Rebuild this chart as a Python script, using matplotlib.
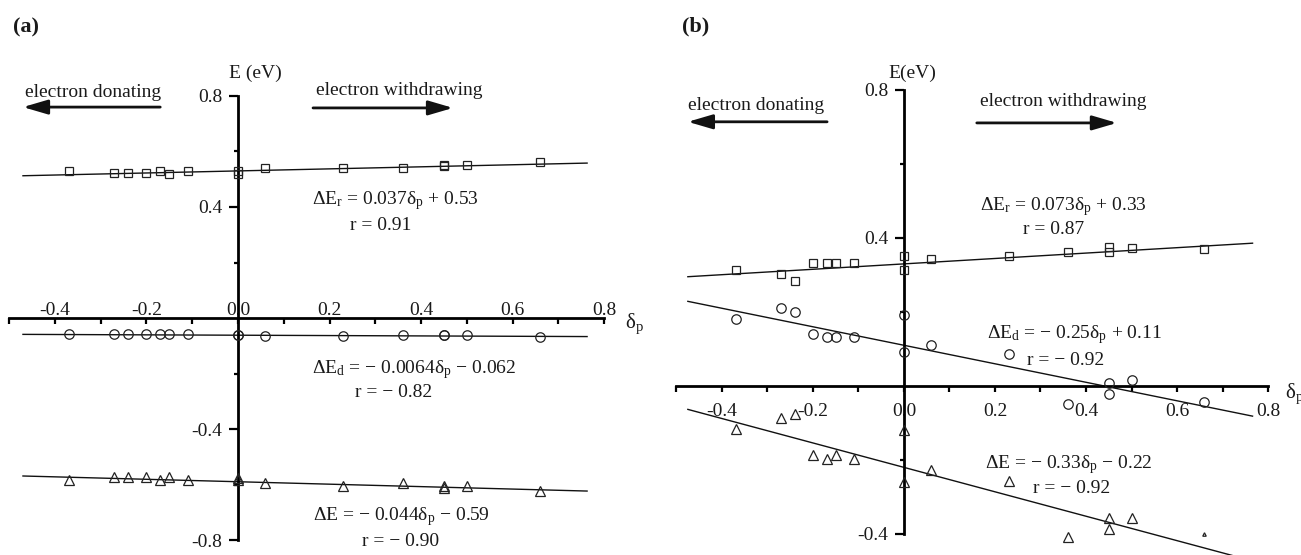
import numpy as np
import matplotlib
matplotlib.use("Agg")
import matplotlib.pyplot as plt
from matplotlib.ticker import FixedLocator, FixedFormatter

plt.rcParams['font.family'] = ['Liberation Serif', 'DejaVu Serif']
plt.rcParams['mathtext.fontset'] = 'custom'
plt.rcParams['mathtext.rm'] = 'Liberation Serif'
plt.rcParams['mathtext.it'] = 'Liberation Serif:italic'
plt.rcParams['mathtext.bf'] = 'Liberation Serif:bold'
plt.rcParams['axes.unicode_minus'] = False

# ---------------- data ----------------
sigma_p = [-0.37, -0.27, -0.24, -0.20, -0.17, -0.15, -0.11, 0.00, 0.00,
           0.06, 0.23, 0.36, 0.45, 0.45, 0.50, 0.66]

a_Er = [0.530, 0.521, 0.521, 0.521, 0.530, 0.520, 0.530, 0.530, 0.520,
        0.542, 0.542, 0.541, 0.551, 0.549, 0.551, 0.561]
a_Ed = [-0.059, -0.059, -0.059, -0.059, -0.059, -0.059, -0.059, -0.060, -0.062,
        -0.065, -0.065, -0.061, -0.063, -0.062, -0.061, -0.067]
a_E = [-0.584, -0.573, -0.573, -0.573, -0.584, -0.573, -0.584, -0.578, -0.582,
       -0.593, -0.605, -0.594, -0.607, -0.611, -0.605, -0.623]

b_Er = [0.314, 0.303, 0.284, 0.332, 0.332, 0.332, 0.332, 0.352, 0.314,
        0.342, 0.351, 0.362, 0.375, 0.361, 0.373, 0.371]
b_Ed = [0.181, 0.211, 0.201, 0.141, 0.132, 0.132, 0.132, 0.192, 0.093,
        0.112, 0.086, -0.050, 0.009, -0.022, 0.016, -0.042]
b_E = [-0.116, -0.086, -0.077, -0.186, -0.197, -0.186, -0.197, -0.119, -0.259,
       -0.227, -0.257, -0.407, -0.358, -0.387, -0.358, -0.400]

# regression (slope, intercept) as printed on the chart
a_fit_Er = (0.037, 0.53)
a_fit_Ed = (-0.0064, -0.062)
a_fit_E = (-0.044, -0.59)
b_fit_Er = (0.073, 0.33)
b_fit_Ed = (-0.25, 0.11)
b_fit_E = (-0.33, -0.22)

SUBR = r'$_\mathrm{r}$'
SUBD = r'$_\mathrm{d}$'
SUBP = r'$_\mathrm{p}$'
a_eq_Er = '\u0394E' + SUBR + ' = 0.037\u03b4' + SUBP + ' + 0.53'
a_r_Er = 'r = 0.91'
a_eq_Ed = '\u0394E' + SUBD + ' = \u2212 0.0064\u03b4' + SUBP + ' \u2212 0.062'
a_r_Ed = 'r = \u2212 0.82'
a_eq_E = '\u0394E = \u2212 0.044\u03b4' + SUBP + ' \u2212 0.59'
a_r_E = 'r = \u2212 0.90'
b_eq_Er = '\u0394E' + SUBR + ' = 0.073\u03b4' + SUBP + ' + 0.33'
b_r_Er = 'r = 0.87'
b_eq_Ed = '\u0394E' + SUBD + ' = \u2212 0.25\u03b4' + SUBP + ' + 0.11'
b_r_Ed = 'r = \u2212 0.92'
b_eq_E = '\u0394E = \u2212 0.33\u03b4' + SUBP + ' \u2212 0.22'
b_r_E = 'r = \u2212 0.92'

x_major = [-0.4, -0.2, 0.0, 0.2, 0.4, 0.6, 0.8]
x_major_labels = ['-0.4', '-0.2', '0.0', '0.2', '0.4', '0.6', '0.8']
x_minor = [-0.5, -0.3, -0.1, 0.1, 0.3, 0.5, 0.7]
a_y_major = [-0.8, -0.4, 0.4, 0.8]
a_y_major_labels = ['-0.8', '-0.4', '0.4', '0.8']
a_y_minor = [-0.6, -0.2, 0.2, 0.6]
b_y_major = [-0.4, 0.4, 0.8]
b_y_major_labels = ['-0.4', '0.4', '0.8']
b_y_minor = [-0.2, 0.2, 0.6]

# ---------------- figure ----------------
W, H = 1301, 555
fig = plt.figure(figsize=(W / 100, H / 100), dpi=100)
TXT = '#1a1a1a'
FS = 14

axA = fig.add_axes([0, 0, 650 / W, 1])
axB = fig.add_axes([650 / W, 0, 651 / W, 1])
axA.set_xlim(-0.5202, 0.9005)
axA.set_ylim(-0.854, 1.1459)
axB.set_xlim(-0.5582, 0.8725)
axB.set_ylim(-0.4568, 1.0432)

mk = dict(linestyle='none', markerfacecolor='none', markeredgecolor='#222222',
          markeredgewidth=0.9, zorder=3)


def style_axes(ax, ybounds, ymaj, ymaj_lab, ymin, labels_above):
    ax.patch.set_visible(False)
    for s in ['right', 'bottom', 'top', 'left']:
        ax.spines[s].set_visible(False)
    ax.spines['left'].set_visible(True)
    ax.spines['left'].set_position(('data', 0))
    ax.spines['left'].set_bounds(*ybounds)
    ax.spines['left'].set_linewidth(2.0)
    xs = 'top' if labels_above else 'bottom'
    ax.spines[xs].set_visible(True)
    ax.spines[xs].set_position(('data', 0))
    ax.spines[xs].set_bounds(-0.5, 0.8)
    ax.spines[xs].set_linewidth(2.0)
    ax.xaxis.set_ticks_position(xs)
    ax.xaxis.set_major_locator(FixedLocator(x_major))
    ax.xaxis.set_major_formatter(FixedFormatter(x_major_labels))
    ax.xaxis.set_minor_locator(FixedLocator(x_minor))
    if labels_above:
        ax.tick_params(axis='x', which='both', direction='in', length=4.5,
                       width=1.6, pad=-1, labelsize=FS, labelcolor=TXT)
    else:
        ax.tick_params(axis='x', which='both', direction='out', length=4,
                       width=1.6, pad=8, labelsize=FS, labelcolor=TXT)
    ax.yaxis.set_ticks_position('left')
    ax.yaxis.set_major_locator(FixedLocator(ymaj))
    ax.yaxis.set_major_formatter(FixedFormatter(ymaj_lab))
    ax.yaxis.set_minor_locator(FixedLocator(ymin))
    ax.tick_params(axis='y', which='major', direction='out', length=6.5,
                   width=1.6, pad=5, labelsize=FS, labelcolor=TXT)
    ax.tick_params(axis='y', which='minor', direction='out', length=3,
                   width=1.6)


style_axes(axA, (-0.8, 0.8), a_y_major, a_y_major_labels, a_y_minor, True)
style_axes(axB, (-0.4, 0.8), b_y_major, b_y_major_labels, b_y_minor, False)


def fit_line(ax, fit, xr):
    xx = np.array(xr)
    ax.plot(xx, fit[0] * xx + fit[1], color='#111111', lw=1.0, zorder=2)


# panel a
for fit in (a_fit_Er, a_fit_Ed, a_fit_E):
    fit_line(axA, fit, [-0.47, 0.763])
axA.plot(sigma_p, a_Er, marker='s', markersize=6.2, **mk)
axA.plot(sigma_p, a_Ed, marker='o', markersize=6.8, **mk)
axA.plot(sigma_p, a_E, marker='^', markersize=7.2, **mk)

# panel b
for fit in (b_fit_Er, b_fit_Ed, b_fit_E):
    fit_line(axB, fit, [-0.475, 0.766])
axB.plot(sigma_p, b_Er, marker='s', markersize=6.2, **mk)
axB.plot(sigma_p, b_Ed, marker='o', markersize=6.8, **mk)
axB.plot(sigma_p[:-1], b_E[:-1], marker='^', markersize=7.2, **mk)
axB.plot(sigma_p[-1:], b_E[-1:], marker='^', markersize=2.5, **mk)


def arrow(ax, x0, x1, y):
    ax.annotate('', xy=(x1, y), xytext=(x0, y),
                arrowprops=dict(arrowstyle='-|>,head_length=0.75,head_width=0.22',
                                lw=2.0, color='#111111', shrinkA=0, shrinkB=0,
                                mutation_scale=20), annotation_clip=False)


def txt(ax, x, y, s, ha='left', fs=FS):
    ax.text(x, y, s, ha=ha, va='center', fontsize=fs, color=TXT, clip_on=False)


# panel a texts
txt(axA, 0.037, 0.883, 'E (eV)', ha='center')
txt(axA, -0.466, 0.811, 'electron donating')
arrow(axA, -0.170, -0.470, 0.760)
txt(axA, 0.170, 0.818, 'electron withdrawing')
arrow(axA, 0.164, 0.470, 0.757)
txt(axA, 0.162, 0.425, a_eq_Er)
txt(axA, 0.245, 0.335, a_r_Er)
txt(axA, 0.162, -0.187, a_eq_Ed)
txt(axA, 0.256, -0.270, a_r_Ed)
txt(axA, 0.164, -0.717, a_eq_E)
txt(axA, 0.271, -0.807, a_r_E)
txt(axA, 0.846, -0.020, '\u03b4' + SUBP, fs=15)

# panel b texts
txt(axB, 0.018, 0.846, 'E(eV)', ha='center')
txt(axB, -0.475, 0.757, 'electron donating')
arrow(axB, -0.169, -0.475, 0.714)
txt(axB, 0.167, 0.770, 'electron withdrawing')
arrow(axB, 0.160, 0.468, 0.711)
txt(axB, 0.167, 0.484, b_eq_Er)
txt(axB, 0.262, 0.422, b_r_Er)
txt(axB, 0.182, 0.138, b_eq_Ed)
txt(axB, 0.270, 0.070, b_r_Ed)
txt(axB, 0.178, -0.211, b_eq_E)
txt(axB, 0.284, -0.278, b_r_E)
txt(axB, 0.837, -0.022, '\u03b4' + SUBP, fs=15)

fig.text(13 / W, 1 - 27 / H, '(a)', fontsize=16, fontweight='bold',
         ha='left', va='center', color=TXT)
fig.text(682 / W, 1 - 26 / H, '(b)', fontsize=16, fontweight='bold',
         ha='left', va='center', color=TXT)

fig.savefig('out.png', dpi=100)
